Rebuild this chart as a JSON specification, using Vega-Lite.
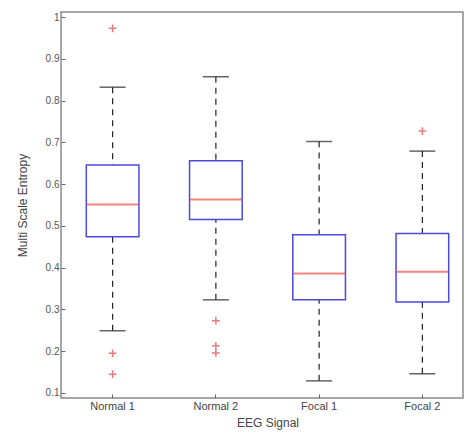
{
  "$schema": "https://vega.github.io/schema/vega-lite/v6.json",
  "width": 402,
  "height": 386,
  "autosize": "none",
  "padding": {"left": 61, "top": 12, "right": 4, "bottom": 47},
  "background": "white",
  "config": {
    "view": {"stroke": "#8a8a8a", "strokeWidth": 1.5},
    "font": "Liberation Sans",
    "axis": {"labelFont": "Liberation Sans", "titleFont": "Liberation Sans", "labelColor": "#555", "titleColor": "#444", "titleFontWeight": "normal", "grid": false}
  },
  "datasets": {
    "boxes": [
      {"signal": "Normal 1", "lower": 0.249, "q1": 0.474, "median": 0.551, "q3": 0.646, "upper": 0.832},
      {"signal": "Normal 2", "lower": 0.323, "q1": 0.515, "median": 0.563, "q3": 0.656, "upper": 0.857},
      {"signal": "Focal 1", "lower": 0.129, "q1": 0.323, "median": 0.386, "q3": 0.479, "upper": 0.702},
      {"signal": "Focal 2", "lower": 0.146, "q1": 0.318, "median": 0.390, "q3": 0.482, "upper": 0.679}
    ],
    "outliers": [
      {"signal": "Normal 1", "value": 0.973},
      {"signal": "Normal 1", "value": 0.195},
      {"signal": "Normal 1", "value": 0.145},
      {"signal": "Normal 2", "value": 0.273},
      {"signal": "Normal 2", "value": 0.213},
      {"signal": "Normal 2", "value": 0.196},
      {"signal": "Focal 2", "value": 0.727}
    ]
  },
  "encoding": {
    "x": {
      "field": "signal", "type": "nominal", "sort": ["Normal 1", "Normal 2", "Focal 1", "Focal 2"],
      "scale": {"range": [0, 413], "paddingInner": 0, "paddingOuter": 0},
      "axis": {"title": "EEG Signal", "titleFontSize": 12, "titlePadding": 6, "labelFontSize": 11, "labelAngle": 0, "labelPadding": 6, "domain": false, "tickSize": -4, "tickColor": "#666", "labelColor": "#444"}
    }
  },
  "layer": [
    {
      "data": {"name": "boxes"},
      "mark": {"type": "rule", "color": "#222", "strokeDash": [6, 5], "strokeWidth": 1.2},
      "encoding": {
        "y": {"field": "upper", "type": "quantitative",
          "scale": {"domain": [0.088, 1.012], "nice": false, "zero": false},
          "axis": {"title": "Multi Scale Entropy", "titleFontSize": 12, "titlePadding": 16, "labelFontSize": 10, "values": [0.1, 0.2, 0.3, 0.4, 0.5, 0.6, 0.7, 0.8, 0.9, 1], "format": ".1~f", "domain": false, "tickSize": -4, "tickColor": "#666", "labelPadding": 6}},
        "y2": {"field": "q3"}
      }
    },
    {
      "data": {"name": "boxes"},
      "mark": {"type": "rule", "color": "#222", "strokeDash": [6, 5], "strokeWidth": 1.2},
      "encoding": {"y": {"field": "lower", "type": "quantitative"}, "y2": {"field": "q1"}}
    },
    {
      "data": {"name": "boxes"},
      "mark": {"type": "bar", "fill": "white", "stroke": "#4a4ae0", "strokeWidth": 1.5, "width": {"band": 0.51}},
      "encoding": {"y": {"field": "q1", "type": "quantitative"}, "y2": {"field": "q3"}}
    },
    {
      "data": {"name": "boxes"},
      "mark": {"type": "tick", "color": "#f0504a", "size": 52, "thickness": 2},
      "encoding": {"y": {"field": "median", "type": "quantitative"}}
    },
    {
      "data": {"name": "boxes"},
      "mark": {"type": "tick", "color": "#222", "size": 26, "thickness": 1.5},
      "encoding": {"y": {"field": "upper", "type": "quantitative"}}
    },
    {
      "data": {"name": "boxes"},
      "mark": {"type": "tick", "color": "#222", "size": 26, "thickness": 1.5},
      "encoding": {"y": {"field": "lower", "type": "quantitative"}}
    },
    {
      "data": {"name": "outliers"},
      "mark": {"type": "point", "shape": "M-1,0H1M0,-1V1", "stroke": "#e8404a", "strokeWidth": 1.5, "size": 60, "filled": false},
      "encoding": {"y": {"field": "value", "type": "quantitative"}}
    }
  ]
}
